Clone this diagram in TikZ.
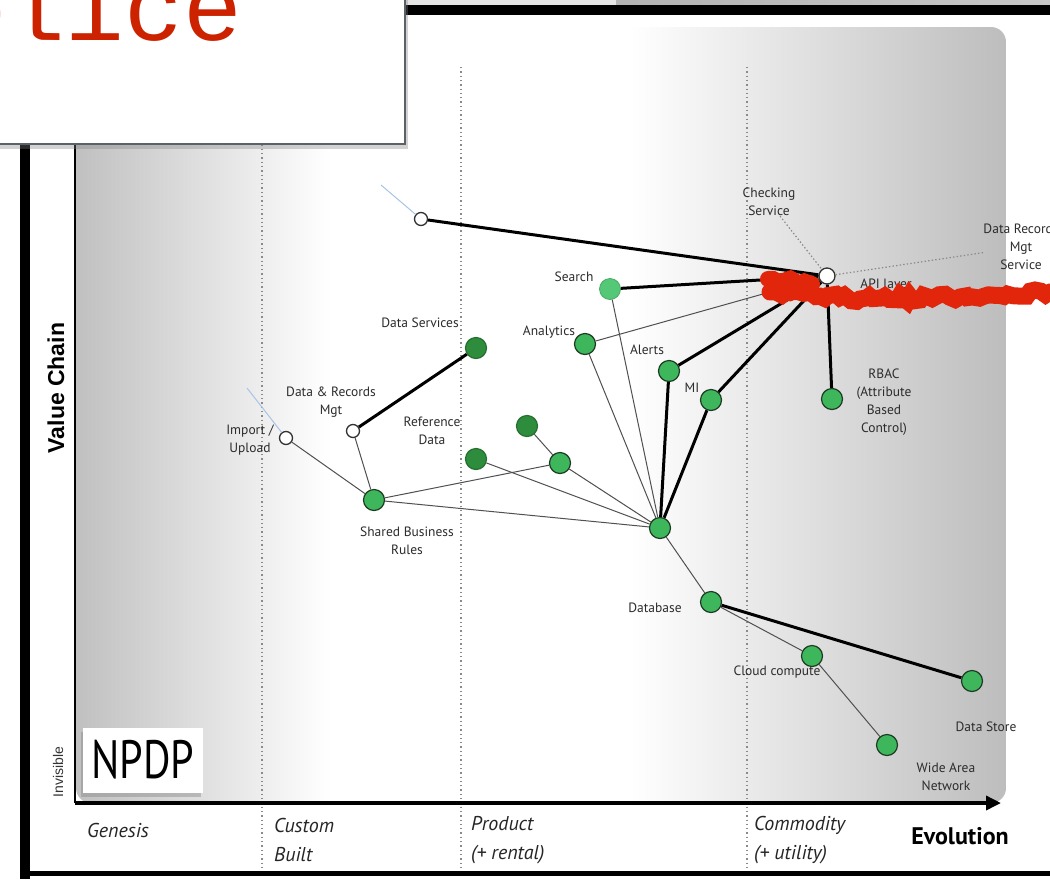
\documentclass[tikz,border=0pt]{standalone}
\usepackage{fontspec}
\setmainfont{PT Sans}
\newfontfamily\axisfont{Liberation Sans}
\newfontfamily\calloutfont{Liberation Mono}
\usepackage{tikz}
\usetikzlibrary{shadows,decorations.pathmorphing,arrows.meta}
\definecolor{ink}{HTML}{2C2C2C}
\definecolor{panelgrey}{HTML}{BDBDBD}
\definecolor{panelgreyl}{HTML}{C0C0C0}
\definecolor{sepgrey}{HTML}{8A8A8A}
\definecolor{linkgrey}{HTML}{505050}
\definecolor{compgreen}{HTML}{3DB65C}
\definecolor{compedge}{HTML}{1E3B24}
\definecolor{deepgreen}{HTML}{2E8C3D}
\definecolor{softgreen}{HTML}{55C878}
\definecolor{stubblue}{HTML}{A8C4E6}
\definecolor{boxedge}{HTML}{5C6168}
\definecolor{strike}{HTML}{E2260B}
\definecolor{calloutred}{HTML}{CC2200}
\newcommand{\lblfont}{\fontsize{13.5}{18}\selectfont}
\newcommand{\stagefont}{\fontsize{20}{29}\selectfont\itshape}

\begin{document}
\begin{tikzpicture}[x=1pt, y=-1pt,
  comp/.style={circle, draw=compedge, fill=compgreen, line width=1.2pt, minimum size=21pt, inner sep=0pt},
  deep/.style={comp, draw=deepgreen!80!black, fill=deepgreen},
  soft/.style={comp, draw=softgreen!85!black, fill=softgreen, line width=0.8pt},
  hollow/.style={circle, draw=black!80, fill=white, line width=1.3pt, minimum size=13pt, inner sep=0pt},
  link/.style={draw=linkgrey, line width=1pt},
  strong/.style={draw=black, line width=3pt},
  hint/.style={draw=sepgrey, line width=1.2pt, dash pattern=on 1.4pt off 2.2pt},
  stub/.style={draw=stubblue, line width=1pt},
  lbl/.style={font=\lblfont, text=ink, align=center, inner sep=0pt},
  stage/.style={font=\stagefont, text=black!85, align=left, anchor=west, inner sep=0pt},
  sepline/.style={draw=sepgrey, line width=1.3pt, dash pattern=on 1.3pt off 3pt},
  scrawl/.style={draw=strike, line cap=round, decorate,
                 decoration={random steps, segment length=5pt, amplitude=3pt}}
]
\useasboundingbox (0,0) rectangle (1050,879);
\fill[white] (0,0) rectangle (1050,879);

% window strip at the top
\fill[black!10] (406,0) rectangle (616,5);
\shade[left color=black!30, right color=black!22] (616,0) rectangle (1050,5);

% map panel
\begin{scope}
  \clip[rounded corners=15pt] (76,27) rectangle (1006,803);
  \fill[white] (76,27) rectangle (1006,803);
  \shade[left color=panelgreyl, right color=white] (76,27) rectangle (330,803);
  \shade[left color=white, right color=panelgrey] (630,27) rectangle (1006,803);
\end{scope}

% evolution stages
\foreach \sx in {262,461,747}
  \draw[sepline] (\sx,67) -- (\sx,870);

% frame
\draw[line width=10pt] (25,140) -- (25,879);
\draw[line width=10pt] (400,10) -- (1050,10);
\draw[line width=5pt] (20,873) -- (1050,873);

% axes
\coordinate (origin) at (75,803);
\coordinate (vtop) at (75,140);
\coordinate (evo) at (1001,803);
\draw[line width=2pt] (origin) -- (vtop);
\draw[line width=3.5pt, -{Triangle[length=15pt,width=14pt]}] (origin) -- (evo);

\node[rotate=90, font=\axisfont\bfseries\fontsize{23}{23}\selectfont] (vchain) at (56,388) {Value Chain};
\node[rotate=90, font=\axisfont\fontsize{14}{14}\selectfont, text=black!80] (invis) at (58,772) {Invisible};

\node[stage] (genesis) at (87,830) {Genesis};
\node[stage] (custom) at (274,840) {Custom\\Built};
\node[stage] (product) at (471,840) {Product\\(+ rental)};
\node[stage] (commodity) at (754,840) {Commodity\\(+ utility)};
\node[font=\bfseries\fontsize{24}{24}\selectfont, inner sep=0pt] (evolution) at (960,836) {Evolution};

% components
\node[hollow] (feed) at (421,219) {};
\node[hollow, minimum size=16pt] (api) at (827,276) {};
\node[soft] (search) at (610,289) {};
\node[comp] (analytics) at (585,344) {};
\node[deep] (dsvc) at (476,348) {};
\node[comp] (alerts) at (669,371) {};
\node[comp] (mi) at (711,400) {};
\node[comp] (rbac) at (832,399) {};
\node[hollow] (drm) at (353,431) {};
\node[hollow] (import) at (286,438) {};
\node[deep] (refa) at (476,459) {};
\node[deep] (refb) at (527,426) {};
\node[comp] (refc) at (560,463) {};
\node[comp] (sbr) at (374,500) {};
\node[comp] (hub) at (660,528) {};
\node[comp] (db) at (711,602) {};
\node[comp] (cloud) at (812,656) {};
\node[comp] (store) at (972,681) {};
\node[comp] (wan) at (887,745) {};

% labels
\node[lbl] (l-search) at (574,277) {Search};
\node[lbl] (l-analytics) at (549,332) {Analytics};
\node[lbl] (l-dsvc) at (420,323) {Data Services};
\node[lbl] (l-alerts) at (647,350) {Alerts};
\node[lbl] (l-mi) at (692,388) {MI};
\node[lbl] (l-rbac) at (884,402) {RBAC\\(Attribute\\Based\\Control)};
\node[lbl] (l-drm) at (331,402) {Data \& Records\\Mgt};
\node[lbl] (l-import) at (250,440) {Import /\\Upload};
\node[lbl] (l-ref) at (432,431) {Reference\\Data};
\node[lbl] (l-sbr) at (407,541) {Shared Business\\Rules};
\node[lbl] (l-db) at (655,608) {Database};
\node[lbl] (l-cloud) at (777,672) {Cloud compute};
\node[lbl] (l-store) at (986,727) {Data Store};
\node[lbl] (l-wan) at (946,777) {Wide Area\\Network};
\node[lbl] (l-check) at (769,202) {Checking\\Service};
\node[lbl] (l-drms) at (1021,247) {Data Records\\Mgt\\Service};
\node[lbl] (l-api) at (886,285) {API layer};

% links
\draw[link] (analytics) -- (api);
\draw[link] (import) -- (sbr);
\draw[link] (drm) -- (sbr);
\draw[link] (sbr) -- (refc);
\draw[link] (sbr) -- (hub);
\draw[link] (refa) -- (hub);
\draw[link] (refb) -- (refc);
\draw[link] (refc) -- (hub);
\draw[link] (analytics) -- (hub);
\draw[link] (search) -- (hub);
\draw[link] (hub) -- (db);
\draw[link] (db) -- (cloud);
\draw[link] (cloud) -- (wan);

\draw[strong] (feed) -- (api);
\draw[strong] (search) -- (api);
\draw[strong] (alerts) -- (api);
\draw[strong] (mi) -- (api);
\draw[strong] (rbac) -- (api);
\draw[strong] (drm) -- (dsvc);
\draw[strong] (alerts) -- (hub);
\draw[strong] (mi) -- (hub);
\draw[strong] (db) -- (store);

\draw[hint] (l-check) -- (api);
\draw[hint] (api) -- (l-drms);

\coordinate (feedstub) at (381,185);
\coordinate (importstub) at (247,388);
\draw[stub] (feedstub) -- (feed);
\draw[stub] (importstub) -- (import);

% red strike over the API layer
\pgfmathsetseed{7}
\draw[scrawl, line width=16pt] (768,279) -- (812,284);
\draw[scrawl, line width=17pt] (770,292) -- (860,299) -- (960,297) -- (1050,292);

% NPDP tag
\node[fill=white, drop shadow={opacity=0.4, shadow xshift=-2pt, shadow yshift=-4pt},
      minimum width=120pt, minimum height=65pt, inner sep=0pt] (npdp) at (143,760)
      {\scalebox{0.78}[1]{\fontsize{54}{54}\selectfont NPDP}};

% callout
\begin{scope}
  \filldraw[fill=white, draw=boxedge, line width=2pt,
            drop shadow={opacity=0.35, shadow xshift=3pt, shadow yshift=-5pt}]
    (-10,-10) rectangle (405,144);
  \clip (0,0) rectangle (404,143);
  \node[anchor=base west, inner sep=0pt, text=calloutred,
        font=\calloutfont\fontsize{98}{98}\selectfont] (callout) at (-52,40) {plice};
\end{scope}
\end{tikzpicture}
\end{document}
